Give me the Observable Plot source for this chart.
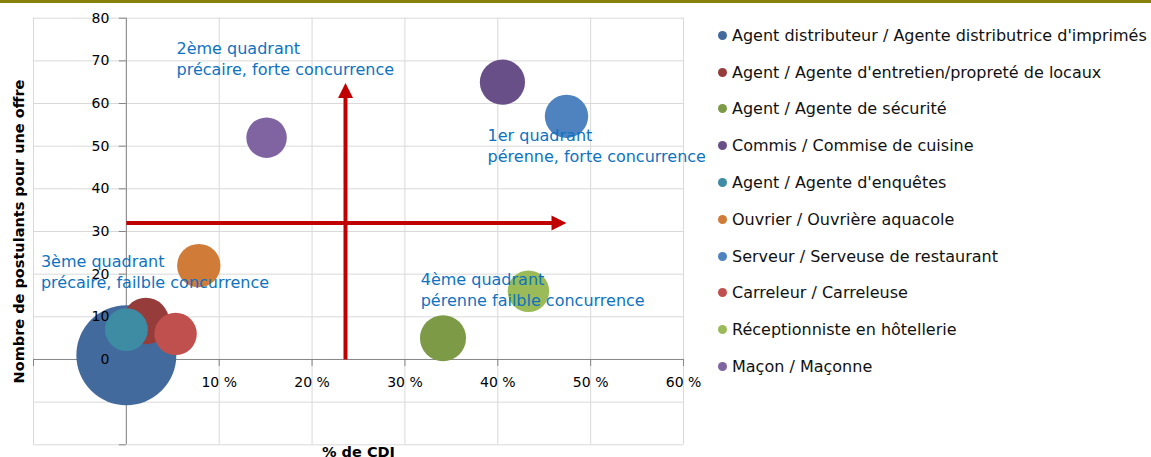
<!DOCTYPE html>
<html><head><meta charset="utf-8">
<script src="https://cdn.jsdelivr.net/npm/d3@7"></script>
<script src="https://cdn.jsdelivr.net/npm/@observablehq/plot@0.6"></script>
<style>
body{margin:0;background:#fff;width:1151px;height:457px;overflow:hidden;position:relative;font-family:"DejaVu Sans",sans-serif}
#bar{position:absolute;left:0;top:0;width:1151px;height:3px;background:#878009;z-index:2}
#chart{position:absolute;left:0;top:0}
#legend{position:absolute;left:718px;top:17px;color:#111}
.row{display:flex;align-items:center;height:36.8px;font-size:16px;white-space:nowrap}
.sw{display:inline-block;width:9px;height:9px;border-radius:50%;margin-right:5px;flex:none}
</style></head><body>
<div id="chart"></div><div id="bar"></div><div id="legend"></div>
<script>
// ---- data ----
const jobs = [
  "Agent distributeur / Agente distributrice d'imprimés",
  "Agent / Agente d'entretien/propreté de locaux",
  "Agent / Agente de sécurité",
  "Commis / Commise de cuisine",
  "Agent / Agente d'enquêtes",
  "Ouvrier / Ouvrière aquacole",
  "Serveur / Serveuse de restaurant",
  "Carreleur / Carreleuse",
  "Réceptionniste en hôtellerie",
  "Maçon / Maçonne"
];
const cdiPct     = [0, 2.1, 34.1, 40.5, 0, 7.8, 47.4, 5.3, 43.3, 15.1];
const applicants = [1, 9, 5, 65, 7, 22, 57, 6, 16, 52];
const bubbleSize = [250, 54, 53, 51, 46, 47, 47, 45, 43, 41];
const colors = ["#426A9C", "#963D3B", "#7D9A47", "#684F88", "#3D8CA4",
                "#D07B38", "#4F83BF", "#C0504D", "#9BBB59", "#8064A2"];

const xGrid = [-10, 0, 10, 20, 30, 40, 50, 60];
const yGrid = [-20, -10, 0, 10, 20, 30, 40, 50, 60, 70, 80];
const xTickLabels = [10, 20, 30, 40, 50, 60];
const yTickLabels = [0, 10, 20, 30, 40, 50, 60, 70, 80];

const xTitle = "% de CDI";
const yTitle = "Nombre de postulants pour une offre";

// quadrant split arrows
const splitX = 23.6, splitY = 32;
const hArrowFrom = 0, hArrowTo = 47.4;
const vArrowFrom = 0, vArrowTo = 64.8;

// quadrant annotations
const quadTitles = ["2ème quadrant", "1er quadrant", "3ème quadrant", "4ème quadrant"];
const quadDescs  = ["précaire, forte concurrence", "pérenne, forte concurrence",
                    "précaire, failble concurrence", "pérenne failble concurrence"];
const quadX = [5.4, 38.9, -9.2, 31.7];
const quadY = [70.7, 50.4, 20.8, 16.5];

// ---- chart ----
const idx = d3.range(jobs.length);
const arrowRed = "#C00000";
const headRight = {draw(ctx){ctx.moveTo(0,0);ctx.lineTo(-15,-7.5);ctx.lineTo(-15,7.5);ctx.closePath();}};
const headUp = {draw(ctx){ctx.moveTo(0,0);ctx.lineTo(-7.5,15);ctx.lineTo(7.5,15);ctx.closePath();}};

const chart = Plot.plot({
  width: 705, height: 457,
  marginLeft: 33, marginRight: 22, marginTop: 17.7, marginBottom: 12.7,
  x: {domain: [-10, 60], axis: null},
  y: {domain: [-20, 80], axis: null},
  r: {type: "sqrt", domain: [0, 250], range: [0, 50]},
  color: {domain: jobs, range: colors},
  style: {fontFamily: "'DejaVu Sans', sans-serif", fontSize: "14px", color: "#000", background: "transparent"},
  marks: [
    Plot.ruleX(xGrid, {stroke: "#d9d9d9", strokeOpacity: 1}),
    Plot.ruleY(yGrid, {stroke: "#d9d9d9", strokeOpacity: 1}),
    Plot.ruleX([0], {stroke: "#868686", strokeOpacity: 1}),
    Plot.ruleY([0], {stroke: "#868686", strokeOpacity: 1}),
    Plot.ruleX(xGrid, {x: d => d, y1: 0, y2: 0, insetBottom: -7, stroke: "#868686", strokeOpacity: 1}),
    Plot.ruleY(yGrid, {y: d => d, x1: 0, x2: 0, insetLeft: -7, stroke: "#868686", strokeOpacity: 1}),
    Plot.dot(idx, {x: i => cdiPct[i], y: i => applicants[i], r: i => bubbleSize[i], fill: i => jobs[i], fillOpacity: 1, sort: null}),
    Plot.text(xTickLabels, {x: d => d, y: 0, text: d => `${d} %`, dy: 23, fill: "#000", fontSize: 14}),
    Plot.text(yTickLabels, {x: 0, y: d => d, text: d => String(d), dx: -17, textAnchor: "end", fill: "#000", fontSize: 14}),
    Plot.arrow([0], {x1: hArrowFrom, x2: hArrowTo, y1: splitY, y2: splitY, stroke: arrowRed, strokeWidth: 4, headLength: 0, insetEnd: 8, strokeLinecap: "butt"}),
    Plot.arrow([0], {x1: splitX, x2: splitX, y1: vArrowFrom, y2: vArrowTo, stroke: arrowRed, strokeWidth: 4, headLength: 0, insetEnd: 8, strokeLinecap: "butt"}),
    Plot.dot([0], {x: hArrowTo, y: splitY, symbol: headRight, r: 1, fill: arrowRed, stroke: "none"}),
    Plot.dot([0], {x: splitX, y: vArrowTo, symbol: headUp, r: 1, fill: arrowRed, stroke: "none"}),
    Plot.text(idx.slice(0, quadTitles.length), {
      x: i => quadX[i], y: i => quadY[i], text: i => quadTitles[i] + "\n" + quadDescs[i],
      textAnchor: "start", lineHeight: 1.3, fontSize: 16, fill: "#0E72C1"
    }),
    Plot.text([yTitle], {frameAnchor: "left", textAnchor: "middle", rotate: -90, dx: -14, fontWeight: "bold", fontSize: 14.5, fill: "#000"}),
    Plot.text([xTitle], {frameAnchor: "bottom", textAnchor: "middle", lineAnchor: "top", dy: 1.5, fontWeight: "bold", fontSize: 14.5, fill: "#000"})
  ]
});
document.getElementById("chart").append(chart);

// ---- legend ----
const legend = d3.select("#legend");
jobs.forEach((name, i) => {
  const row = legend.append("div").attr("class", "row");
  row.append("span").attr("class", "sw").style("background", colors[i]);
  row.append("span").text(name);
});
</script></body></html>
